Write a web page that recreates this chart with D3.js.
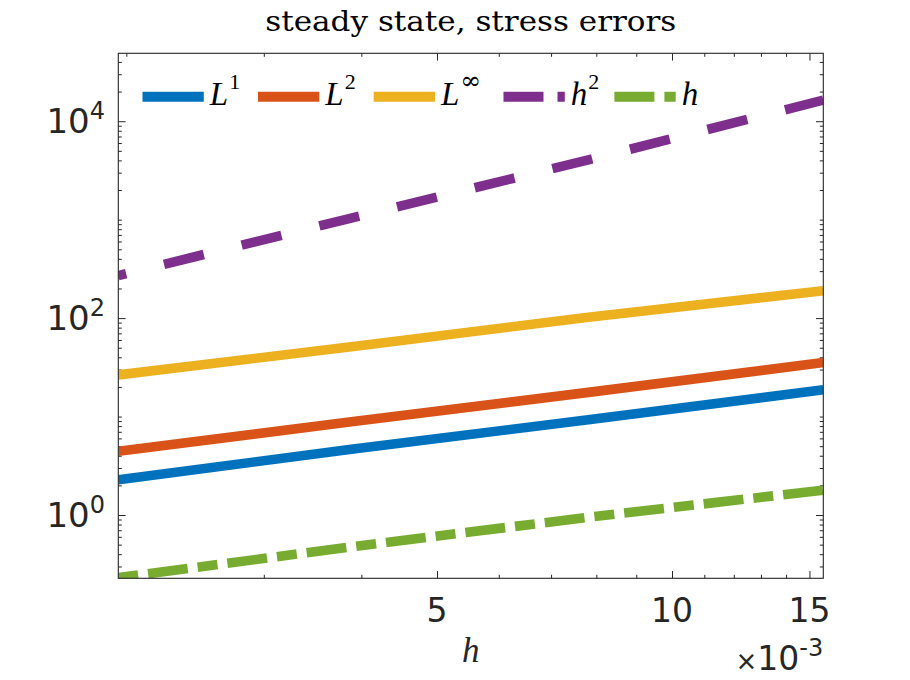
<!DOCTYPE html>
<html><head><meta charset="utf-8">
<script src="https://cdn.jsdelivr.net/npm/d3@7"></script>
<style>body{margin:0;background:#fff}</style>
</head><body><svg id="c" width="910" height="680"></svg>
<script>
// ---- data ----
const hValues = [0.001953125, 0.00390625, 0.0078125, 0.015625];
const errL1 = [2.28, 4.68, 9.27, 18.7];
const errL2 = [4.43, 8.9, 17.6, 35.4];
const errLinf = [26.5, 51.5, 102, 190];
const refH2 = [270, 1050, 4050, 16400];
const refH = [0.231, 0.477, 0.95, 1.79];
const xTickValues = [0.005, 0.010, 0.015];
const xTickLabels = ["5", "10", "15"];
const yTickExponents = [0, 2, 4];
const legendBase = ["L", "L", "L", "h", "h"];
const legendSup = ["1", "2", "\u221E", "2", ""];
const titleText = "steady state, stress errors";
const xLabelText = "h";
const yDomain = [0.2275, 48950];

// ---- layout / style ----
const W = 910, H = 680;
const L = 118.3, R = 823.3, T = 53.3, B = 578.3;
const axisColor = "#262626";
const styles = [
  {color: "#0072BD", dash: null, off: 0, legDash: null},
  {color: "#D95319", dash: null, off: 0, legDash: null},
  {color: "#EDB120", dash: null, off: 0, legDash: null},
  {color: "#7E2F8E", dash: "41 39", off: 32.9, legDash: "40 14"},
  {color: "#77AC30", dash: "40 10 20 10", off: 50, legDash: "40 10 20 10"}
];
const seriesData = [errL1, errL2, errLinf, refH2, refH];
const legendX = [142.5, 258, 373.7, 503.5, 614.4];
const legendSampleLen = 61.3;
const legendY = 96.7;
const lineW = 9.6;

const svg = d3.select("#c");
svg.append("rect").attr("width", W).attr("height", H).attr("fill", "#fff");

const x = d3.scaleLog().domain([hValues[0], hValues[hValues.length - 1]]).range([L, R]);
const y = d3.scaleLog().domain(yDomain).range([B, T]);

// ---- ticks ----
const xMinor = d3.range(2, 16).map(v => v * 1e-3).filter(v => !xTickValues.some(t => Math.abs(t - v) < 1e-9));
const yMajor = yTickExponents.map(e => Math.pow(10, e));
const yMinor = [];
for (let k = -1; k <= 4; k++) for (let m = 1; m <= 9; m++) {
  const v = m * Math.pow(10, k);
  if (v >= yDomain[0] && v <= yDomain[1] && !(m === 1 && yTickExponents.includes(k))) yMinor.push(v);
}
const majLen = 7.3, minLen = 3.5;
function styleAxis(g) {
  g.select(".domain").remove();
  g.selectAll(".tick line").attr("stroke", axisColor).attr("stroke-width", 1);
  g.selectAll(".tick text").remove();
}
[[xTickValues, majLen], [xMinor, minLen]].forEach(([vals, len]) => {
  svg.append("g").attr("transform", `translate(0,${B})`)
    .call(d3.axisBottom(x).tickValues(vals).tickSize(-len).tickFormat("")).call(styleAxis);
  svg.append("g").attr("transform", `translate(0,${T})`)
    .call(d3.axisTop(x).tickValues(vals).tickSize(-len).tickFormat("")).call(styleAxis);
});
[[yMajor, majLen], [yMinor, minLen]].forEach(([vals, len]) => {
  svg.append("g").attr("transform", `translate(${L},0)`)
    .call(d3.axisLeft(y).tickValues(vals).tickSize(-len).tickFormat("")).call(styleAxis);
  svg.append("g").attr("transform", `translate(${R},0)`)
    .call(d3.axisRight(y).tickValues(vals).tickSize(-len).tickFormat("")).call(styleAxis);
});

// ---- clip + lines ----
svg.append("clipPath").attr("id", "clip").append("rect")
  .attr("x", L).attr("y", T).attr("width", R - L).attr("height", B - T);
const line = d3.line().x(d => x(d[0])).y(d => y(d[1]));
const plotG = svg.append("g").attr("clip-path", "url(#clip)");
seriesData.forEach((vals, i) => {
  const st = styles[i];
  plotG.append("path")
    .datum(hValues.map((h, j) => [h, vals[j]]))
    .attr("d", line)
    .attr("fill", "none")
    .attr("stroke", st.color)
    .attr("stroke-width", lineW)
    .attr("stroke-linecap", "butt")
    .attr("stroke-dasharray", st.dash)
    .attr("stroke-dashoffset", st.off);
});

// ---- box ----
svg.append("rect").attr("x", L).attr("y", T).attr("width", R - L).attr("height", B - T)
  .attr("fill", "none").attr("stroke", axisColor).attr("stroke-width", 1.1);

// ---- tick labels ----
const sansFont = "DejaVu Sans";
const serifFont = "Liberation Serif";
svg.append("g").selectAll("text").data(xTickValues).join("text")
  .attr("x", d => x(d)).attr("y", B + 43.4)
  .attr("text-anchor", "middle")
  .attr("font-family", sansFont).attr("font-size", 33)
  .attr("fill", axisColor)
  .text((d, i) => xTickLabels[i]);

yTickExponents.forEach(e => {
  const t = svg.append("text")
    .attr("x", L - 13.3).attr("y", y(Math.pow(10, e)) + 12)
    .attr("text-anchor", "end")
    .attr("font-family", sansFont).attr("font-size", 34)
    .attr("fill", axisColor);
  t.append("tspan").text("10");
  t.append("tspan").attr("font-size", 24).attr("dy", -14).text(String(e));
});

// ---- x label & multiplier ----
svg.append("text").attr("x", (L + R) / 2).attr("y", 662)
  .attr("text-anchor", "middle").attr("font-family", serifFont)
  .attr("font-style", "italic").attr("font-size", 35).attr("fill", axisColor)
  .text(xLabelText);
const mult = svg.append("text").attr("x", R).attr("y", 670)
  .attr("text-anchor", "end").attr("font-family", sansFont)
  .attr("font-size", 33).attr("fill", axisColor);
mult.append("tspan").attr("font-size", 26).text("\u00D7");
mult.append("tspan").text("10");
mult.append("tspan").attr("font-size", 24).attr("dy", -14).text("-3");

// ---- title ----
svg.append("text").attr("x", (L + R) / 2).attr("y", 30.5)
  .attr("text-anchor", "middle").attr("font-family", "DejaVu Serif")
  .attr("font-size", 27).attr("fill", "#000")
  .attr("textLength", 411).attr("lengthAdjust", "spacingAndGlyphs")
  .text(titleText);

// ---- legend ----
const leg = svg.append("g");
legendX.forEach((lx, i) => {
  const st = styles[i];
  leg.append("line")
    .attr("x1", lx).attr("x2", lx + legendSampleLen)
    .attr("y1", legendY).attr("y2", legendY)
    .attr("stroke", st.color).attr("stroke-width", lineW + 0.4)
    .attr("stroke-dasharray", st.legDash);
  const t = leg.append("text")
    .attr("x", lx + legendSampleLen + 6).attr("y", legendY + 8.3)
    .attr("font-family", serifFont).attr("font-size", 33).attr("fill", "#000");
  t.append("tspan").attr("font-style", "italic").text(legendBase[i]);
  if (legendSup[i]) {
    const isInf = legendSup[i] === "\u221E";
    t.append("tspan")
      .attr("font-family", isInf ? "DejaVu Serif" : serifFont)
      .attr("font-size", isInf ? 25 : 22)
      .attr("dx", 1)
      .attr("dy", -16.5).text(legendSup[i]);
  }
});
</script></body></html>
